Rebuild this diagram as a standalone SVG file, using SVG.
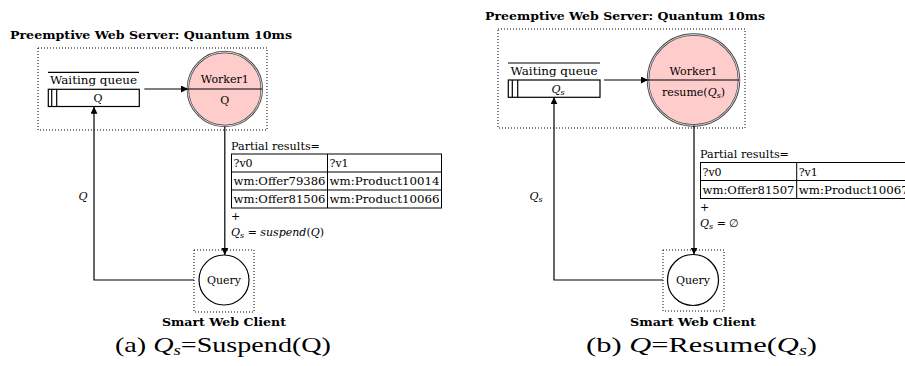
<svg xmlns="http://www.w3.org/2000/svg" width="905" height="366" viewBox="0 0 905 366" font-family="'DejaVu Serif','Liberation Serif',serif">
<defs>
<marker id="ah" viewBox="0 0 10 10" refX="10" refY="5" markerWidth="7" markerHeight="7" orient="auto" markerUnits="userSpaceOnUse">
<path d="M0,0 L10,5 L0,10 z" fill="#000"/>
</marker>
<style>
text{font-family:'DejaVu Serif','Liberation Serif',serif;fill:#000}
.title{font-weight:bold;font-size:11px}
.lbl{font-size:11px}
.cell{font-size:11px}
.cap{font-size:21px;font-family:'Liberation Serif','DejaVu Serif',serif}
.dot{fill:none;stroke:#000;stroke-width:1;stroke-dasharray:1 2}
.line{fill:none;stroke:#000;stroke-width:1.2}
.box{fill:#fff;stroke:#000;stroke-width:1.2}
.tbl{fill:none;stroke:#000;stroke-width:1}
.wk{fill:#ffcccc;stroke:#444;stroke-width:2.4}
.wki{fill:none;stroke:#fff;stroke-width:0.8}
.q{fill:#fff;stroke:#000;stroke-width:1.2}
.it{font-style:italic}
</style>
</defs>

<!-- ===== Panel (a) ===== -->
<g id="a-server">
<text class="title" x="10" y="39" textLength="282" lengthAdjust="spacingAndGlyphs">Preemptive Web Server: Quantum 10ms</text>
<rect class="dot" x="38" y="48" width="229" height="82"/>
</g>
<g id="a-queue">
<line class="line" x1="48" y1="72.3" x2="139" y2="72.3"/>
<text class="lbl" x="93.5" y="84" text-anchor="middle" textLength="87" lengthAdjust="spacingAndGlyphs">Waiting queue</text>
<rect class="box" x="48.3" y="89.3" width="91" height="17.2"/>
<line class="line" x1="51.7" y1="89.3" x2="51.7" y2="106.5"/>
<line class="line" x1="56.7" y1="89.3" x2="56.7" y2="106.5"/>
<text class="lbl" x="98" y="102" text-anchor="middle">Q</text>
</g>
<g id="a-worker">
<circle class="wk" cx="224.8" cy="89" r="37"/>
<circle class="wki" cx="224.8" cy="89" r="37"/>
<line class="line" x1="188" y1="89" x2="261.8" y2="89"/>
<text class="lbl" x="224.8" y="83" text-anchor="middle">Worker1</text>
<text class="lbl" x="224.8" y="104" text-anchor="middle">Q</text>
</g>
<g id="a-client">
<rect class="dot" x="194" y="250" width="60" height="62"/>
<circle class="q" cx="224" cy="280" r="25"/>
<text class="lbl" x="224" y="284" text-anchor="middle">Query</text>
<text class="title" x="224" y="326" text-anchor="middle" textLength="124" lengthAdjust="spacingAndGlyphs">Smart Web Client</text>
</g>
<g id="a-results">
<text class="lbl" x="231" y="150" textLength="89" lengthAdjust="spacingAndGlyphs">Partial results=</text>
<rect class="tbl" x="231.5" y="154" width="210" height="54"/>
<line class="tbl" x1="231.5" y1="172" x2="441.5" y2="172"/>
<line class="tbl" x1="231.5" y1="190" x2="441.5" y2="190"/>
<line class="tbl" x1="327.5" y1="154" x2="327.5" y2="208"/>
<text class="cell" x="233.5" y="167">?v0</text>
<text class="cell" x="329.5" y="167">?v1</text>
<text class="cell" x="233.5" y="185" textLength="92" lengthAdjust="spacingAndGlyphs">wm:Offer79386</text>
<text class="cell" x="329.5" y="185" textLength="110" lengthAdjust="spacingAndGlyphs">wm:Product10014</text>
<text class="cell" x="233.5" y="203" textLength="92" lengthAdjust="spacingAndGlyphs">wm:Offer81506</text>
<text class="cell" x="329.5" y="203" textLength="110" lengthAdjust="spacingAndGlyphs">wm:Product10066</text>
<text class="lbl" x="231" y="220">+</text>
<text class="lbl" x="231" y="236"><tspan class="it">Q</tspan><tspan font-size="8" dy="2" class="it">s</tspan><tspan dy="-2"> = </tspan><tspan class="it">suspend</tspan>(<tspan class="it">Q</tspan>)</text>
</g>
<g id="a-connectors">
<line class="line" x1="144.3" y1="89" x2="188" y2="89" marker-end="url(#ah)"/>
<line class="line" x1="224.8" y1="126.5" x2="224.8" y2="255" marker-end="url(#ah)"/>
<polyline class="line" points="194,280 94,280 94,106.7" marker-end="url(#ah)"/>
<text class="lbl it" x="83" y="200" text-anchor="middle">Q</text>
</g>
<g id="a-caption">
<text class="cap" x="115" y="352" textLength="216" lengthAdjust="spacingAndGlyphs">(a) <tspan class="it">Q</tspan><tspan font-size="14" dy="3" class="it">s</tspan><tspan dy="-3">=Suspend(Q)</tspan></text>
</g>

<!-- ===== Panel (b) ===== -->
<g id="b-server">
<text class="title" x="485" y="20" textLength="280" lengthAdjust="spacingAndGlyphs">Preemptive Web Server: Quantum 10ms</text>
<rect class="dot" x="498" y="29" width="247" height="99"/>
</g>
<g id="b-queue">
<line class="line" x1="508" y1="63" x2="600" y2="63"/>
<text class="lbl" x="554" y="75" text-anchor="middle" textLength="87" lengthAdjust="spacingAndGlyphs">Waiting queue</text>
<rect class="box" x="508.3" y="80" width="91.7" height="17.3"/>
<line class="line" x1="512.3" y1="80" x2="512.3" y2="97.3"/>
<line class="line" x1="517.7" y1="80" x2="517.7" y2="97.3"/>
<text class="lbl" x="558" y="93" text-anchor="middle"><tspan class="it">Q</tspan><tspan font-size="8" dy="2" class="it">s</tspan></text>
</g>
<g id="b-worker">
<circle class="wk" cx="693.5" cy="80" r="45.5"/>
<circle class="wki" cx="693.5" cy="80" r="45.5"/>
<line class="line" x1="648" y1="80" x2="739" y2="80"/>
<text class="lbl" x="693.5" y="74.5" text-anchor="middle">Worker1</text>
<text class="lbl" x="693.5" y="96" text-anchor="middle">resume(<tspan class="it">Q</tspan><tspan font-size="8" dy="2" class="it">s</tspan><tspan dy="-2">)</tspan></text>
</g>
<g id="b-client">
<rect class="dot" x="663" y="250" width="61" height="61"/>
<circle class="q" cx="693" cy="280" r="25.5"/>
<text class="lbl" x="693" y="284" text-anchor="middle">Query</text>
<text class="title" x="693" y="326" text-anchor="middle" textLength="126" lengthAdjust="spacingAndGlyphs">Smart Web Client</text>
</g>
<g id="b-results">
<text class="lbl" x="700" y="158" textLength="89" lengthAdjust="spacingAndGlyphs">Partial results=</text>
<rect class="tbl" x="700.5" y="162.5" width="230" height="36"/>
<line class="tbl" x1="700.5" y1="180.5" x2="930" y2="180.5"/>
<line class="tbl" x1="796.7" y1="162.5" x2="796.7" y2="198.5"/>
<text class="cell" x="702.5" y="175.5">?v0</text>
<text class="cell" x="798.7" y="175.5">?v1</text>
<text class="cell" x="702.5" y="193.5" textLength="92" lengthAdjust="spacingAndGlyphs">wm:Offer81507</text>
<text class="cell" x="798.7" y="193.5" textLength="110" lengthAdjust="spacingAndGlyphs">wm:Product10067</text>
<text class="lbl" x="700" y="211">+</text>
<text class="lbl" x="700" y="227"><tspan class="it">Q</tspan><tspan font-size="8" dy="2" class="it">s</tspan><tspan dy="-2"> = ∅</tspan></text>
</g>
<g id="b-connectors">
<line class="line" x1="604" y1="80" x2="648" y2="80" marker-end="url(#ah)"/>
<line class="line" x1="694" y1="125.5" x2="694" y2="254.5" marker-end="url(#ah)"/>
<polyline class="line" points="663,280 554,280 554,97.3" marker-end="url(#ah)"/>
<text class="lbl" x="536" y="200" text-anchor="middle"><tspan class="it">Q</tspan><tspan font-size="8" dy="2" class="it">s</tspan></text>
</g>
<g id="b-caption">
<text class="cap" x="586" y="352" textLength="231" lengthAdjust="spacingAndGlyphs">(b) <tspan class="it">Q</tspan><tspan dy="0">=Resume(</tspan><tspan class="it">Q</tspan><tspan font-size="14" dy="3" class="it">s</tspan><tspan dy="-3">)</tspan></text>
</g>
</svg>
